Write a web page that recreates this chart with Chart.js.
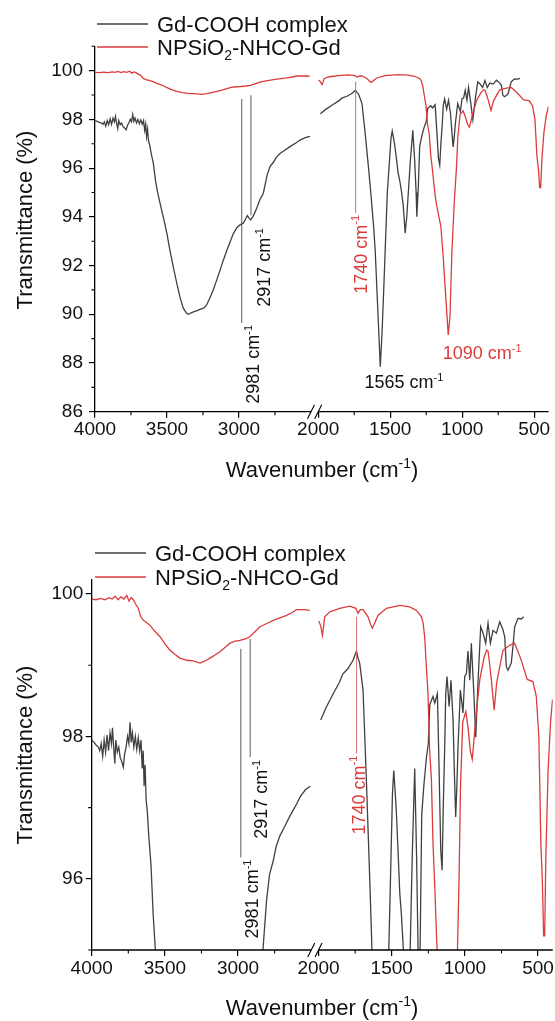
<!DOCTYPE html>
<html>
<head>
<meta charset="utf-8">
<script src="https://cdn.jsdelivr.net/npm/chart.js@4.4.1/dist/chart.umd.min.js"></script>
<style>
  html, body { margin: 0; padding: 0; background: #fff; }
  #wrap { position: relative; width: 555px; height: 1021px; }
  canvas { position: absolute; left: 0; }
  #topChart { top: 0; }
  #bottomChart { top: 500px; }
</style>
</head>
<body>
<div id="wrap">
  <canvas id="topChart" width="555" height="500" style="width:555px;height:500px"></canvas>
  <canvas id="bottomChart" width="555" height="521" style="width:555px;height:521px"></canvas>
</div>
<script>
// Gd-COOH complex, 4000-2500 cm-1
const blackLeftWn = [4000,3985,3970,3955,3945,3935,3925,3915,3905,3895,3885,3875,3865,3858,3850,3842,3835,3825,3815,3805,3795,3784,3775,3765,3755,3746,3738,3730,3722,3712,3702,3692,3682,3672,3663,3655,3648,3642,3635,3628,3620,3610,3595,3580,3565,3550,3526,3500,3479,3455,3433,3410,3387,3365,3352,3335,3317,3290,3271,3245,3225,3200,3179,3155,3132,3110,3086,3060,3040,3015,2993,2970,2955,2942,2930,2919,2900,2877,2855,2831,2805,2785,2760,2740,2715,2690,2646,2600,2576,2540,2507];
const blackLeftT = [97.95,97.92,97.88,97.85,97.8,97.9,97.72,97.95,97.78,98.02,97.8,98.05,97.9,98.12,97.85,97.62,97.95,97.78,97.85,97.7,97.65,97.57,97.75,97.85,98.0,97.9,98.2,97.92,98.05,97.85,98.0,97.82,97.98,97.8,97.95,97.55,97.8,97.3,97.6,97.1,96.95,96.6,96.2,95.5,95.0,94.6,94.0,93.3,92.6,91.9,91.3,90.7,90.25,90.05,90.0,90.05,90.1,90.15,90.2,90.25,90.38,90.7,91.0,91.4,91.8,92.2,92.6,93.0,93.3,93.55,93.67,93.74,93.9,94.05,93.95,93.87,94.05,94.35,94.7,94.97,95.7,96.06,96.25,96.45,96.6,96.7,96.88,97.05,97.15,97.25,97.3];

// Gd-COOH complex, 2000-400 cm-1
const blackRightWn = [1985,1950,1900,1860,1833,1800,1764,1741,1730,1719,1696,1673,1650,1635,1615,1604,1581,1569,1557,1545,1535,1520,1505,1495,1486,1476,1468,1455,1445,1434,1423,1410,1396,1385,1373,1360,1343,1330,1320,1315,1305,1295,1281,1263,1250,1240,1218,1206,1195,1188,1177,1165,1156,1148,1138,1131,1122,1108,1095,1081,1072,1063,1055,1047,1031,1013,1001,990,979,967,956,940,926,910,892,876,858,842,826,808,785,762,740,728,717,706,695,683,670,660,637,615,598];
const blackRightT = [98.23,98.4,98.6,98.75,98.88,98.95,99.07,99.2,99.1,99.03,98.65,97.38,95.98,95.0,93.6,92.6,89.5,87.85,89.2,91.0,92.6,95.0,96.3,97.2,97.52,97.2,96.92,96.3,95.8,95.5,95.1,94.5,93.33,94.0,95.1,96.3,97.55,96.3,95.0,94.0,95.2,96.9,97.3,97.7,97.9,98.45,98.56,98.47,98.55,98.6,97.6,96.4,96.12,97.0,97.85,98.6,98.84,98.42,98.79,98.23,97.5,96.87,97.3,97.85,98.65,98.33,98.85,98.88,99.2,98.79,99.31,98.65,97.99,98.79,99.54,99.45,99.31,99.59,99.31,99.49,99.45,99.61,99.5,99.4,98.98,98.93,98.98,99.03,99.3,99.54,99.66,99.65,99.68];

// NPSiO2-NHCO-Gd, 4000-2500 cm-1
const redLeftWn = [4000,3970,3940,3910,3880,3860,3840,3820,3800,3780,3760,3745,3730,3716,3700,3682,3665,3647,3625,3602,3570,3533,3500,3465,3430,3397,3350,3306,3260,3225,3192,3160,3124,3090,3055,3020,2987,2950,2919,2885,2850,2800,2760,2710,2668,2630,2600,2550,2510];
const redLeftT = [99.93,99.92,99.94,99.92,99.95,99.93,99.97,99.92,99.96,99.93,99.98,99.9,99.95,99.92,99.86,99.8,99.68,99.63,99.6,99.56,99.48,99.4,99.3,99.21,99.15,99.1,99.07,99.06,99.03,99.06,99.1,99.14,99.19,99.25,99.31,99.34,99.35,99.37,99.4,99.47,99.54,99.59,99.63,99.67,99.7,99.74,99.78,99.78,99.77];

// NPSiO2-NHCO-Gd, 2000-400 cm-1
const redRightWn = [1998,1985,1974,1965,1958,1923,1855,1787,1745,1730,1715,1696,1662,1645,1632,1615,1594,1536,1445,1377,1331,1297,1286,1275,1264,1252,1241,1229,1218,1206,1194,1184,1171,1148,1132,1113,1097,1085,1071,1055,1040,1030,1015,994,979,963,950,940,926,898,870,852,842,830,819,800,783,774,740,694,660,620,574,535,512,495,489,481,471,462,455,447,432,415,401];
const redRightT = [99.62,99.55,99.42,99.55,99.68,99.75,99.8,99.83,99.8,99.73,99.78,99.78,99.68,99.58,99.52,99.6,99.7,99.8,99.84,99.82,99.77,99.68,99.6,99.4,99.0,98.6,97.8,97.4,96.5,95.9,95.2,94.7,94.28,93.6,92.36,90.59,89.15,89.9,92.64,94.6,96.0,97.3,98.2,98.35,98.13,97.8,97.68,97.9,98.25,98.8,99.1,99.21,99.2,99.0,98.79,98.37,98.75,98.85,99.21,99.28,99.31,99.1,98.8,98.77,98.56,98.0,97.38,96.5,95.98,95.2,95.2,96.3,97.5,98.2,98.52];

const tickWn = [4000, 3500, 3000, 2000, 1500, 1000, 500];
const minorWn = [3750, 3250, 2750, 1750, 1250, 750];
const topYTicks = [86, 88, 90, 92, 94, 96, 98, 100];
const topYMinor = [87, 89, 91, 93, 95, 97, 99, 101];
const bottomYTicks = [96, 98, 100];
const bottomYMinor = [95, 97, 99];

const FONT = "'Liberation Sans', Arial, sans-serif";
const BLACK_LINE = '#404040';
const RED_LINE = '#dc3b3b';
const TEXT = '#111';

// broken axis: 4000-2500 on the left, 2000-400 shifted to sit just after it
const GAP = 450;
const toU = w => (w <= 2000 ? w + GAP : w);
const fromU = u => (u <= 2000 + GAP ? u - GAP : u);

function series(lw, lt, rw, rt) {
  const pts = lw.map((w, i) => ({x: toU(w), y: lt[i]}));
  pts.push({x: 2475, y: null});
  rw.forEach((w, i) => pts.push({x: toU(w), y: rt[i]}));
  return pts;
}

// parts: [text, 0 normal | 1 superscript | -1 subscript]
function drawRich(ctx, parts, x, y, size, align) {
  const small = Math.round(size * 0.62);
  const widths = parts.map(p => {
    ctx.font = (p[1] ? small : size) + 'px ' + FONT;
    return ctx.measureText(p[0]).width;
  });
  const total = widths.reduce((a, b) => a + b, 0);
  let cx = align === 'center' ? x - total / 2 : align === 'right' ? x - total : x;
  ctx.textAlign = 'left';
  ctx.textBaseline = 'alphabetic';
  parts.forEach((p, i) => {
    ctx.font = (p[1] ? small : size) + 'px ' + FONT;
    const dy = p[1] === 1 ? -size * 0.4 : p[1] === -1 ? size * 0.22 : 0;
    ctx.fillText(p[0], cx, y + dy);
    cx += widths[i];
  });
}

function rotated(ctx, parts, x, y, size, align) {
  ctx.save();
  ctx.translate(x, y);
  ctx.rotate(-Math.PI / 2);
  drawRich(ctx, parts, 0, 0, size, align);
  ctx.restore();
}

function makeDecor(cfg) {
  return {
    id: 'irDecor',
    afterDraw(chart) {
      const ctx = chart.ctx;
      const xs = chart.scales.x, ys = chart.scales.y;
      const a = chart.chartArea;
      const px = w => xs.getPixelForValue(toU(w));
      ctx.save();
      ctx.strokeStyle = '#000';
      ctx.lineWidth = 1.3;

      // x axis line in two pieces with break marks
      const xBreakL = px(2500), xBreakR = px(2000);
      ctx.beginPath();
      ctx.moveTo(a.left, a.bottom); ctx.lineTo(xBreakL, a.bottom);
      ctx.moveTo(xBreakR, a.bottom); ctx.lineTo(a.right, a.bottom);
      ctx.stroke();
      ctx.lineWidth = 1.1;
      ctx.beginPath();
      [xBreakL, xBreakR].forEach(bx => {
        ctx.moveTo(bx - 3.5, a.bottom + 7);
        ctx.lineTo(bx + 3.5, a.bottom - 7);
      });
      ctx.stroke();

      // minor ticks
      ctx.lineWidth = 1.1;
      ctx.beginPath();
      minorWn.forEach(w => {
        ctx.moveTo(px(w), a.bottom);
        ctx.lineTo(px(w), a.bottom + 3.5);
      });
      cfg.yMinor.forEach(v => {
        const py = ys.getPixelForValue(v);
        ctx.moveTo(a.left, py);
        ctx.lineTo(a.left - 3.5, py);
      });
      ctx.stroke();

      // peak marker lines
      ctx.lineWidth = 1;
      cfg.vlines.forEach(l => {
        ctx.strokeStyle = l.color;
        ctx.beginPath();
        ctx.moveTo(px(l.wn), ys.getPixelForValue(l.from));
        ctx.lineTo(px(l.wn), ys.getPixelForValue(l.to));
        ctx.stroke();
      });

      // peak labels
      cfg.rotLabels.forEach(l => {
        ctx.fillStyle = l.color;
        rotated(ctx, [[l.num + ' cm', 0], ['-1', 1]], px(l.wn) + l.dx, ys.getPixelForValue(l.top), 18, 'right');
      });
      cfg.flatLabels.forEach(l => {
        ctx.fillStyle = l.color;
        drawRich(ctx, [[l.num + ' cm', 0], ['-1', 1]], px(l.wn) + l.dx, ys.getPixelForValue(l.y) + 6.5, 18, 'center');
      });

      // legend
      const rows = [
        [BLACK_LINE, [['Gd-COOH complex', 0]]],
        [RED_LINE, [['NPSiO', 0], ['2', -1], ['-NHCO-Gd', 0]]]
      ];
      rows.forEach((r, i) => {
        const ly = cfg.legendY[i];
        ctx.strokeStyle = r[0];
        ctx.lineWidth = 1.5;
        ctx.beginPath();
        ctx.moveTo(cfg.legendX, ly);
        ctx.lineTo(cfg.legendX + 51, ly);
        ctx.stroke();
        ctx.fillStyle = TEXT;
        drawRich(ctx, r[1], cfg.legendX + 60, ly + 8, 22, 'left');
      });

      // axis titles
      ctx.fillStyle = TEXT;
      rotated(ctx, [['Transmittance (%)', 0]], 32, cfg.yTitleY, 22, 'center');
      drawRich(ctx, [['Wavenumber (cm', 0], ['-1', 1], [')', 0]], 322, cfg.xTitleY, 22, 'center');
      ctx.restore();
    }
  };
}

function makeChart(id, opt) {
  return new Chart(document.getElementById(id), {
    type: 'line',
    data: {
      datasets: [
        {
          label: 'NPSiO2-NHCO-Gd',
          data: series(redLeftWn, redLeftT, redRightWn, redRightT),
          borderColor: RED_LINE,
          borderWidth: 1.3,
          pointRadius: 0,
          spanGaps: false
        },
        {
          label: 'Gd-COOH complex',
          data: series(blackLeftWn, blackLeftT, blackRightWn, blackRightT),
          borderColor: BLACK_LINE,
          borderWidth: 1.3,
          pointRadius: 0,
          spanGaps: false
        }
      ]
    },
    options: {
      responsive: false,
      animation: false,
      events: [],
      layout: {padding: {left: 0, right: opt.padRight, top: opt.padTop, bottom: 0}},
      plugins: {legend: {display: false}, tooltip: {enabled: false}},
      scales: {
        x: {
          type: 'linear',
          reverse: true,
          min: 850,
          max: 4000,
          afterBuildTicks: s => { s.ticks = tickWn.map(w => ({value: toU(w)})); },
          afterFit: s => { s.height = opt.xHeight; },
          border: {display: false},
          grid: {drawOnChartArea: false, drawTicks: true, tickLength: 6, color: '#000', lineWidth: 1.2},
          ticks: {
            font: {family: FONT, size: 19},
            color: TEXT,
            padding: 1,
            autoSkip: false,
            maxRotation: 0,
            callback: v => String(fromU(v))
          }
        },
        y: {
          min: opt.yMin,
          max: opt.yMax,
          afterBuildTicks: s => { s.ticks = opt.yTicks.map(v => ({value: v})); },
          afterFit: s => { s.width = opt.yWidth; },
          border: {display: true, color: '#000', width: 1.3},
          grid: {drawOnChartArea: false, drawTicks: true, tickLength: 6, color: '#000', lineWidth: 1.2},
          ticks: {font: {family: FONT, size: 19}, color: TEXT, padding: opt.yPad}
        }
      }
    },
    plugins: [makeDecor(opt.decor)]
  });
}

makeChart('topChart', {
  padRight: 6.4, padTop: 46.3, xHeight: 88.3, yWidth: 95, yPad: 6,
  yMin: 86, yMax: 101, yTicks: topYTicks,
  decor: {
    yMinor: topYMinor,
    legendX: 97,
    legendY: [24, 47],
    yTitleY: 220,
    xTitleY: 477,
    vlines: [
      {wn: 2981, from: 98.84, to: 89.64, color: '#5a5a5a'},
      {wn: 2917, from: 98.99, to: 94.06, color: '#5a5a5a'},
      {wn: 1740, from: 99.55, to: 94.16, color: '#e26a6a'}
    ],
    rotLabels: [
      {wn: 2981, num: '2981', dx: 17, top: 89.56, color: TEXT},
      {wn: 2917, num: '2917', dx: 19, top: 93.54, color: TEXT},
      {wn: 1740, num: '1740', dx: 11, top: 94.08, color: RED_LINE}
    ],
    flatLabels: [
      {wn: 1565, num: '1565', dx: 23, y: 87.22, color: TEXT},
      {wn: 1090, num: '1090', dx: 33, y: 88.42, color: RED_LINE}
    ]
  }
});

makeChart('bottomChart', {
  padRight: 2.1, padTop: 79.8, xHeight: 71, yWidth: 91.7, yPad: 2.5,
  yMin: 95, yMax: 100.2, yTicks: bottomYTicks,
  decor: {
    yMinor: bottomYMinor,
    legendX: 95,
    legendY: [53, 77],
    yTitleY: 255,
    xTitleY: 515,
    vlines: [
      {wn: 2981, from: 99.23, to: 96.3, color: '#5a5a5a'},
      {wn: 2917, from: 99.37, to: 97.71, color: '#5a5a5a'},
      {wn: 1740, from: 99.68, to: 97.76, color: '#e26a6a'}
    ],
    rotLabels: [
      {wn: 2981, num: '2981', dx: 17, top: 96.27, color: TEXT},
      {wn: 2917, num: '2917', dx: 17, top: 97.67, color: TEXT},
      {wn: 1740, num: '1740', dx: 8, top: 97.73, color: RED_LINE}
    ],
    flatLabels: []
  }
});
</script>
</body>
</html>
